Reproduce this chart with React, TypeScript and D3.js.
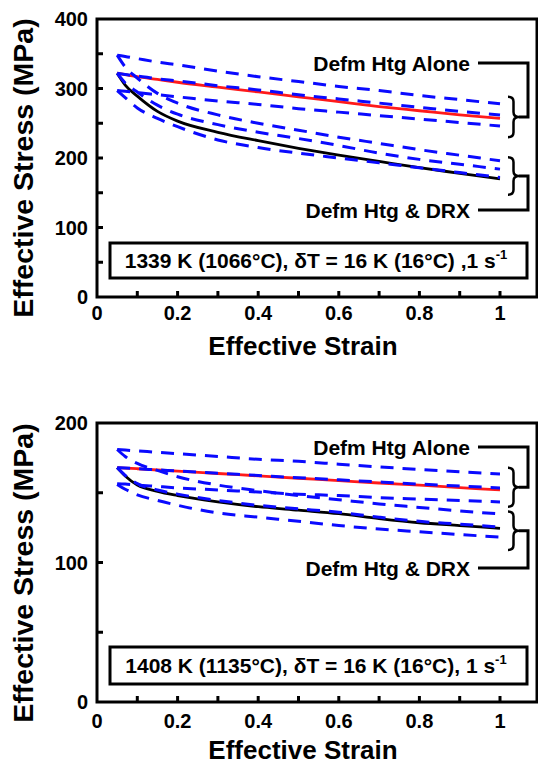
import React from "react";
import * as d3 from "d3";

// strain points shared by all curves
const strain = [0.05, 0.07, 0.1, 0.15, 0.2, 0.3, 0.4, 0.5, 0.6, 0.7, 0.8, 0.9, 1.0];

// 1339 K panel (MPa)
const red1339 = [322, 320, 317, 313, 309, 302, 295, 288, 281, 274, 268, 262, 257];
const black1339 = [322, 305, 289, 267, 253, 237, 225, 214, 204, 195, 186, 178, 170];
const alone1339Hi = [348, 346, 343, 338, 334, 325, 317, 310, 303, 297, 290, 284, 278];
const alone1339Mid = [322, 320, 318, 314, 311, 304, 298, 291, 285, 279, 273, 267, 262];
const alone1339Lo = [297, 296, 294, 291, 288, 282, 277, 271, 266, 261, 256, 251, 246];
const drx1339Hi = [348, 331, 315, 293, 279, 262, 250, 240, 230, 221, 212, 204, 196];
const drx1339Mid = [322, 308, 295, 276, 263, 248, 237, 228, 218, 207, 198, 191, 184];
const drx1339Lo = [297, 287, 272, 257, 245, 226, 215, 207, 200, 193, 186, 179, 172];

// 1408 K panel (MPa)
const red1408 = [168, 167.7, 167.2, 166.3, 165.5, 163.8, 162.1, 160.4, 158.7, 157, 155.4, 153.7, 152];
const black1408 = [168, 162, 155.5, 151, 148, 143.5, 140, 137.5, 135, 131.5, 128.5, 126.5, 124.5];
const alone1408Hi = [181, 180.6, 180, 179, 178, 176, 174, 172.5, 170.5, 168.5, 166.7, 165, 163.4];
const alone1408Mid = [168, 167.7, 167.2, 166.4, 165.6, 164, 162.4, 160.8, 159.3, 157.7, 156.2, 154.8, 153.4];
const alone1408Lo = [156.5, 156.2, 155.5, 154.5, 153.5, 152, 150.5, 149, 148, 146.5, 145.5, 144.5, 143.4];
const drx1408Hi = [181, 176, 171, 166, 161.5, 155.5, 151.5, 148, 145, 142, 139.5, 137, 134.8];
const drx1408Mid = [168, 162.5, 156.5, 152, 149, 144.5, 141, 138.5, 136, 132.5, 129.5, 127.5, 125.4];
const drx1408Lo = [156, 152.5, 148.5, 144.5, 141, 135.5, 132.5, 129.5, 126.5, 124, 122, 120, 118.3];

const xLabels = [0, 0.2, 0.4, 0.6, 0.8, 1];
const xMinor = [0.1, 0.2, 0.3, 0.4, 0.5, 0.6, 0.7, 0.8, 0.9, 1.0];

const FONT = "'Liberation Sans', Arial, Helvetica, sans-serif";
const BLUE = "#0a0aff";

type PanelProps = {
  top: number;
  bottom: number;
  yMax: number;
  yLabels: number[];
  solid: { values: number[]; color: string }[];
  dashed: number[][];
  boxTop: number;
  boxBottom: number;
  boxText: string;
  braceAlone: [number, number];
  braceDrx: [number, number];
  textAloneY: number;
  textDrxY: number;
  yLabelY: number;
  xLabelY: number;
  xTickY: number;
};

function brace(x: number, y0: number, y1: number, w: number) {
  const ym = (y0 + y1) / 2;
  const h = w / 2;
  const r = 5;
  return `M${x},${y0} Q${x + h},${y0} ${x + h},${y0 + r} L${x + h},${ym - r} Q${x + h},${ym} ${x + w},${ym} Q${x + h},${ym} ${x + h},${ym + r} L${x + h},${y1 - r} Q${x + h},${y1} ${x},${y1}`;
}

function Panel(p: PanelProps) {
  const x = d3.scaleLinear().domain([0, 1]).range([97, 500]);
  const y = d3.scaleLinear().domain([0, p.yMax]).range([p.bottom, p.top]);
  const line = (vals: number[]) =>
    d3
      .line<number>()
      .x((_, i) => x(strain[i]))
      .y((v) => y(v))
      .curve(d3.curveMonotoneX)(vals) || "";
  const yMinor = d3.range(50, p.yMax, 50);
  const bx = 508;
  const bw = 11;
  const aTip = (p.braceAlone[0] + p.braceAlone[1]) / 2;
  const dTip = (p.braceDrx[0] + p.braceDrx[1]) / 2;
  return (
    <g fontFamily={FONT}>
      {p.solid.map((s, i) => (
        <path key={"s" + i} d={line(s.values)} fill="none" stroke={s.color} strokeWidth={2.8} />
      ))}
      {p.dashed.map((vals, i) => (
        <path key={"d" + i} d={line(vals)} fill="none" stroke={BLUE} strokeWidth={3} strokeDasharray="13 9" />
      ))}
      {/* frame */}
      <rect x={97} y={p.top} width={440} height={p.bottom - p.top} fill="none" stroke="#000" strokeWidth={3} />
      {xMinor.map((t) => (
        <line key={"xt" + t} x1={x(t)} x2={x(t)} y1={p.bottom} y2={p.bottom - 6} stroke="#000" strokeWidth={3} />
      ))}
      {yMinor.map((t) => (
        <line key={"yt" + t} x1={97} x2={103} y1={y(t)} y2={y(t)} stroke="#000" strokeWidth={3} />
      ))}
      {xLabels.map((t) => (
        <text key={"xl" + t} x={x(t)} y={p.xTickY} textAnchor="middle" dominantBaseline="central" fontSize={20} fontWeight="bold">
          {String(t)}
        </text>
      ))}
      {p.yLabels.map((t) => (
        <text key={"yl" + t} x={88} y={y(t)} textAnchor="end" dominantBaseline="central" fontSize={20} fontWeight="bold">
          {t}
        </text>
      ))}
      <text
        transform={`translate(23,${p.yLabelY}) rotate(-90)`}
        textAnchor="middle"
        dominantBaseline="central"
        fontSize={28.5}
        fontWeight="bold"
      >
        Effective Stress (MPa)
      </text>
      <text x={303} y={p.xLabelY} textAnchor="middle" dominantBaseline="central" fontSize={26} fontWeight="bold">
        Effective Strain
      </text>
      {/* condition box */}
      <rect x={110} y={p.boxTop} width={417} height={p.boxBottom - p.boxTop} fill="#fff" stroke="#000" strokeWidth={3} />
      <text x={316} y={(p.boxTop + p.boxBottom) / 2 + 7.5} textAnchor="middle" fontSize={21} fontWeight="bold">
        {p.boxText}
        <tspan fontSize={13} dy={-9}>-1</tspan>
      </text>
      {/* annotations */}
      <text x={470} y={p.textAloneY} textAnchor="end" dominantBaseline="central" fontSize={21} fontWeight="bold">
        Defm Htg Alone
      </text>
      <text x={470} y={p.textDrxY} textAnchor="end" dominantBaseline="central" fontSize={21} fontWeight="bold">
        {"Defm Htg & DRX"}
      </text>
      <path d={brace(bx, y(p.braceAlone[0]), y(p.braceAlone[1]), bw)} fill="none" stroke="#000" strokeWidth={2.5} />
      <path d={brace(bx, y(p.braceDrx[0]), y(p.braceDrx[1]), bw)} fill="none" stroke="#000" strokeWidth={2.5} />
      <polyline
        points={`478,${p.textAloneY} 528,${p.textAloneY} 528,${y(aTip)} ${bx + bw},${y(aTip)}`}
        fill="none"
        stroke="#000"
        strokeWidth={3}
      />
      <polyline
        points={`478,${p.textDrxY} 528,${p.textDrxY} 528,${y(dTip)} ${bx + bw},${y(dTip)}`}
        fill="none"
        stroke="#000"
        strokeWidth={3}
      />
    </g>
  );
}

export default function App() {
  return (
    <svg width={538} height={765} style={{ position: "absolute", left: 0, top: 0, background: "#fff" }}>
      <Panel
        top={19}
        bottom={297}
        yMax={400}
        yLabels={[0, 100, 200, 300, 400]}
        solid={[
          { values: red1339, color: "#ff1a1a" },
          { values: black1339, color: "#000" },
        ]}
        dashed={[alone1339Hi, alone1339Mid, alone1339Lo, drx1339Hi, drx1339Mid, drx1339Lo]}
        boxTop={243}
        boxBottom={278}
        boxText="1339 K (1066°C), δT = 16 K (16°C) ,1 s"
        braceAlone={[288, 230]}
        braceDrx={[201, 147]}
        textAloneY={63}
        textDrxY={210}
        yLabelY={168}
        xLabelY={346}
        xTickY={313}
      />
      <Panel
        top={423}
        bottom={702}
        yMax={200}
        yLabels={[0, 100, 200]}
        solid={[
          { values: red1408, color: "#ff1a1a" },
          { values: black1408, color: "#000" },
        ]}
        dashed={[alone1408Hi, alone1408Mid, alone1408Lo, drx1408Hi, drx1408Mid, drx1408Lo]}
        boxTop={647}
        boxBottom={684}
        boxText="1408 K (1135°C), δT = 16 K (16°C), 1 s"
        braceAlone={[168, 140]}
        braceDrx={[136.5, 109]}
        textAloneY={447}
        textDrxY={568}
        yLabelY={573}
        xLabelY={750}
        xTickY={721}
      />
    </svg>
  );
}
